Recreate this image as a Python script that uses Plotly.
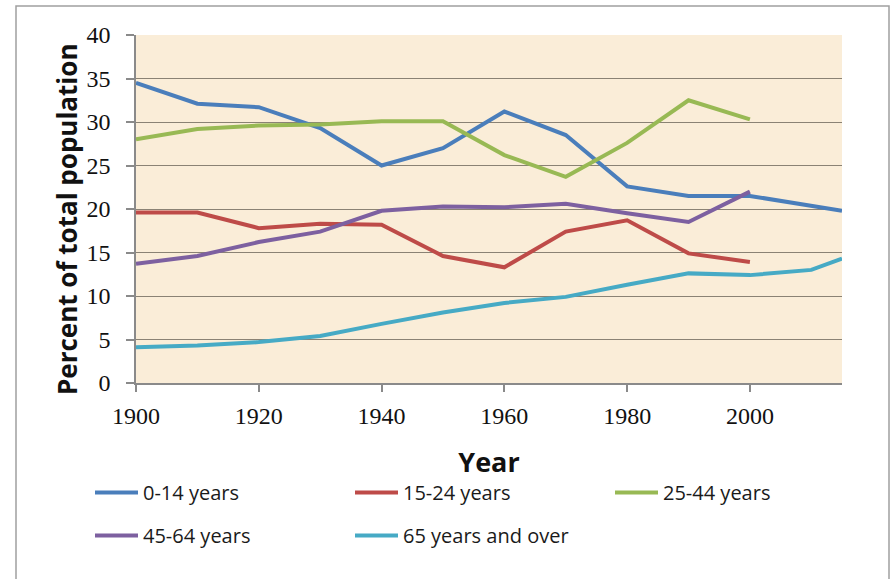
import plotly.graph_objects as go

# Share of the total population by age group, 1900-2015 (percent)
years = [1900, 1910, 1920, 1930, 1940, 1950, 1960, 1970, 1980, 1990, 2000, 2010, 2015]
years_to_2000 = years[:11]

age_0_14 = [34.5, 32.1, 31.7, 29.3, 25.0, 27.0, 31.2, 28.5, 22.6, 21.5, 21.5, 20.3, 19.8]
age_15_24 = [19.6, 19.6, 17.8, 18.3, 18.2, 14.6, 13.3, 17.4, 18.7, 14.9, 13.9]
age_25_44 = [28.0, 29.2, 29.6, 29.7, 30.1, 30.1, 26.2, 23.7, 27.6, 32.5, 30.3]
age_45_64 = [13.7, 14.6, 16.2, 17.4, 19.8, 20.3, 20.2, 20.6, 19.5, 18.5, 22.0]
age_65_over = [4.1, 4.3, 4.7, 5.4, 6.8, 8.1, 9.2, 9.9, 11.3, 12.6, 12.4, 13.0, 14.3]

x_ticks = [1900, 1920, 1940, 1960, 1980, 2000]
y_ticks = [0, 5, 10, 15, 20, 25, 30, 35, 40]

series = [
    ("0-14 years", years, age_0_14, "#4A7EBB", "legend"),
    ("15-24 years", years_to_2000, age_15_24, "#BE4B48", "legend"),
    ("25-44 years", years_to_2000, age_25_44, "#98B954", "legend"),
    ("45-64 years", years_to_2000, age_45_64, "#7D60A0", "legend2"),
    ("65 years and over", years, age_65_over, "#46AAC5", "legend2"),
]

fig = go.Figure()
for name, xs, ys, color, leg in series:
    fig.add_trace(go.Scatter(
        x=xs, y=ys, name=name, mode="lines",
        line=dict(color=color, width=4),
        legend=leg,
    ))

tick_font = dict(family="Liberation Serif", size=24, color="#111111")
legend_font = dict(family="Open Sans", size=20, color="#1a1a1a")

# plot area in pixels: x 136..842, y 35..383
PL, PW, PT, PH = 136, 706, 35, 348


def px_x(px):
    return (px - PL) / PW


def px_y(py):
    return (PT + PH - py) / PH


legend_common = dict(
    orientation="h", xanchor="left", yanchor="top",
    font=legend_font, entrywidth=202, entrywidthmode="pixels",
    bgcolor="rgba(0,0,0,0)", itemwidth=43,
)

fig.update_layout(
    width=894, height=579,
    margin=dict(l=PL, r=894 - PL - PW, t=PT, b=579 - PT - PH),
    paper_bgcolor="white",
    plot_bgcolor="#FAEDD8",
    showlegend=True,
    legend=dict(x=px_x(90), y=px_y(473), **legend_common),
    legend2=dict(x=px_x(90), y=px_y(516), **legend_common),
    xaxis=dict(
        range=[1900, 2015], tickvals=x_ticks, ticktext=[str(v) for v in x_ticks],
        showgrid=False, zeroline=False,
        showline=True, linecolor="#8a8a8a", linewidth=1.5,
        ticks="outside", ticklen=7, tickcolor="#8a8a8a", tickwidth=1.5,
        tickfont=tick_font, ticklabelstandoff=3,
        title=dict(text="Year", font=dict(family="Open Sans", size=27, color="#111111", weight="bold"),
                   standoff=26),
        automargin=False,
    ),
    yaxis=dict(
        range=[0, 40], tickvals=y_ticks, ticktext=[str(v) for v in y_ticks],
        showgrid=True, gridcolor="#8a8274", gridwidth=1.3, zeroline=False,
        showline=True, linecolor="#8a8a8a", linewidth=1.5,
        ticks="outside", ticklen=8, tickcolor="#8a8a8a", tickwidth=1.5,
        tickfont=tick_font, ticklabelstandoff=11,
        automargin=False,
    ),
    annotations=[
        dict(text="Percent of total population", textangle=-90,
             xref="paper", yref="paper", x=px_x(67), y=px_y(220),
             xanchor="center", yanchor="middle", showarrow=False,
             font=dict(family="Open Sans", size=26, color="#111111", weight="bold")),
    ],
    shapes=[
        # outer chart frame
        dict(type="rect", xref="paper", yref="paper",
             x0=px_x(16), x1=px_x(889), y0=px_y(600), y1=px_y(6),
             line=dict(color="#a0a0a0", width=1.5), fillcolor="rgba(0,0,0,0)", layer="below"),
    ],
)

fig.write_html("out.html")
